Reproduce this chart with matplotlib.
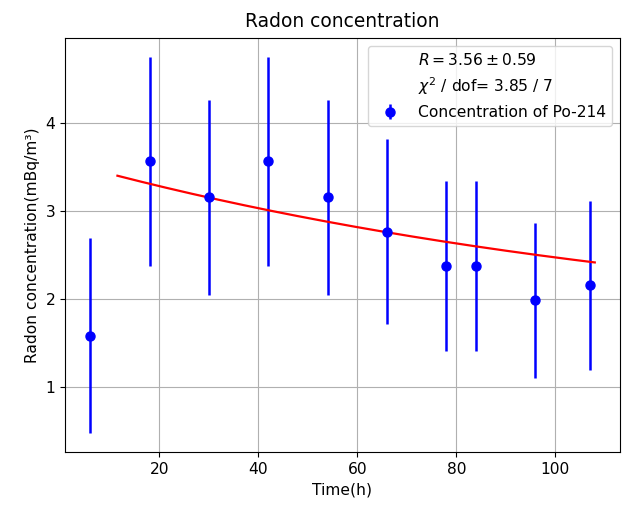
import numpy as np
import matplotlib
matplotlib.use("Agg")
import matplotlib.pyplot as plt

plt.rcParams['font.size'] = 11.2

time_h = [6, 18, 30, 42, 54, 66, 78, 84, 96, 107]
conc = [1.58, 3.56, 3.15, 3.56, 3.15, 2.76, 2.37, 2.37, 1.98, 2.15]
conc_err = [1.11, 1.19, 1.11, 1.19, 1.11, 1.05, 0.97, 0.97, 0.88, 0.96]

# fitted model: A * exp(-lam * t) + C
fit_A = 2.07
fit_lambda = 0.0076
fit_C = 1.50
fit_range = [11.5, 108]

fig = plt.figure(figsize=(6.25, 5.05), dpi=100)
ax = fig.add_axes([0.104, 0.105, 0.888, 0.820])

tfit = np.linspace(fit_range[0], fit_range[1], 200)
ax.errorbar(time_h, conc, yerr=conc_err, fmt='o', color='blue', ecolor='blue',
            markersize=6.5, elinewidth=1.8, label='Concentration of Po-214')
ax.plot(tfit, fit_A * np.exp(-fit_lambda * tfit) + fit_C, color='red', lw=1.6)
ax.plot([], [], ' ', label=r'$R = 3.56 \pm 0.59$')
ax.plot([], [], ' ', label=r'$\chi^2$ / dof= 3.85 / 7')

handles, labels = ax.get_legend_handles_labels()
ax.legend(handles, labels, loc='upper right')

ax.set_title('Radon concentration', fontsize=13.4, pad=8)
ax.set_xlabel('Time(h)')
ax.set_ylabel('Radon concentration(mBq/m³)')
ax.grid(True)

fig.savefig('out.png', dpi=100)
